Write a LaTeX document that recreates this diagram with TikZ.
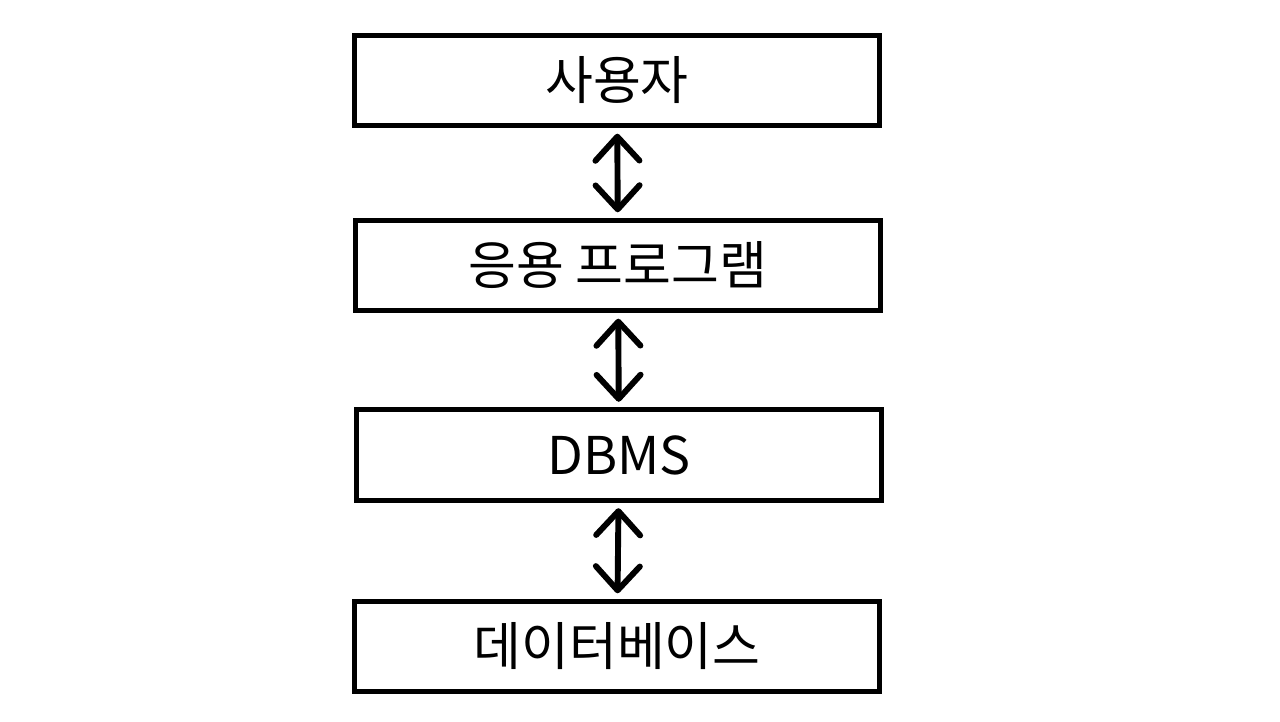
\documentclass[tikz,border=0pt]{standalone}
\usepackage{fontspec}
\setmainfont{Noto Sans CJK KR}
\usetikzlibrary{arrows.meta}

\tikzset{
  layer/.style={draw, line width=3.4pt, minimum width=13.14cm, minimum height=2.26cm,
    inner sep=0pt, font=\fontsize{37}{44}\selectfont},
  link/.style={line width=4.2pt, line cap=round,
    {Straight Barb[length=0.6cm, width=1.1cm, line width=4.2pt, line cap=round, line join=round]}-{Straight Barb[length=0.6cm, width=1.1cm, line width=4.2pt, line cap=round, line join=round]},
    shorten <=4pt, shorten >=4pt}
}

\begin{document}
\begin{tikzpicture}[x=0.025cm, y=-0.025cm]
  \useasboundingbox (0,0) rectangle (1280,722);

  \node[layer] (user) at (617,80.5) {사용자};
  \node[layer] (app) at (618,265.5) {응용 프로그램};
  \node[layer] (dbms) at (619,455) {DBMS};
  \node[layer] (db) at (617,646.5) {데이터베이스};

  \draw[link] (user) -- (app);
  \draw[link] (app) -- (dbms);
  \draw[link] (dbms) -- (db);
\end{tikzpicture}
\end{document}
